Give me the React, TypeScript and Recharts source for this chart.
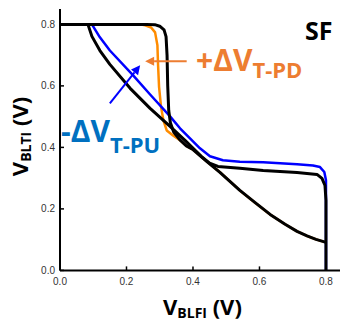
import React from 'react';
import { LineChart, Line, XAxis, YAxis, ReferenceLine } from 'recharts';

// axis ticks
const xTicks = [0, 0.2, 0.4, 0.6, 0.8];
const yTicks = [0, 0.2, 0.4, 0.6, 0.8];
const sideTicks = [0.2, 0.4, 0.6, 0.8];

// black curve, forward VTC (drops near 0.32 V)
const blackFwdX = [0, 0.26, 0.285, 0.3, 0.313, 0.319, 0.322, 0.324, 0.327, 0.332, 0.342, 0.36, 0.38, 0.4, 0.442, 0.481, 0.541, 0.586, 0.632, 0.677, 0.713, 0.743, 0.77, 0.8];
const blackFwdY = [0.8, 0.8, 0.799, 0.794, 0.782, 0.76, 0.7, 0.6, 0.52, 0.48, 0.45, 0.425, 0.405, 0.393, 0.354, 0.319, 0.26, 0.221, 0.182, 0.15, 0.127, 0.112, 0.101, 0.091];

// black curve, mirrored VTC (plateau ~0.33 V)
const blackRevX = [0, 0.084, 0.096, 0.12, 0.15, 0.211, 0.271, 0.331, 0.376, 0.425, 0.45, 0.475, 0.541, 0.611, 0.713, 0.773, 0.788, 0.797, 0.8, 0.8];
const blackRevY = [0.8, 0.8, 0.761, 0.715, 0.67, 0.592, 0.527, 0.468, 0.423, 0.371, 0.349, 0.338, 0.332, 0.325, 0.318, 0.312, 0.299, 0.276, 0.228, 0];

// orange: +dVT-PD shifted forward VTC
const orangeX = [0, 0.24, 0.256, 0.274, 0.286, 0.293, 0.295, 0.298, 0.304, 0.311, 0.321, 0.34, 0.361, 0.38, 0.4, 0.442, 0.481, 0.541, 0.586, 0.632, 0.677, 0.713, 0.743, 0.77, 0.8];
const orangeY = [0.8, 0.8, 0.797, 0.79, 0.774, 0.732, 0.667, 0.596, 0.531, 0.488, 0.455, 0.439, 0.423, 0.405, 0.393, 0.354, 0.319, 0.26, 0.221, 0.182, 0.15, 0.127, 0.112, 0.101, 0.091];

// blue: -dVT-PU shifted mirrored VTC
const blueX = [0, 0.096, 0.12, 0.15, 0.22, 0.271, 0.331, 0.361, 0.391, 0.421, 0.451, 0.49, 0.541, 0.611, 0.713, 0.761, 0.782, 0.795, 0.8, 0.8, 0.8];
const blueY = [0.8, 0.8, 0.758, 0.715, 0.634, 0.572, 0.501, 0.462, 0.429, 0.397, 0.371, 0.358, 0.353, 0.352, 0.345, 0.341, 0.336, 0.32, 0.293, 0.228, 0];

// annotation arrows (data space)
const orangeArrow = [{ x: 0.381, y: 0.68 }, { x: 0.256, y: 0.68 }];
const blueArrow = [{ x: 0.15, y: 0.543 }, { x: 0.241, y: 0.667 }];

const zip = (xs: number[], ys: number[]) => xs.map((x, i) => ({ x, y: ys[i] }));

const blackFwd = zip(blackFwdX, blackFwdY);
const blackRev = zip(blackRevX, blackRevY);
const orange = zip(orangeX, orangeY);
const blue = zip(blueX, blueY);

const tickFont = '"Liberation Sans", Arial, sans-serif';
const labelFont = '"Open Sans", "Noto Sans", sans-serif';

const LeftTick = (props: any) => {
  const { x, y, payload } = props;
  return (
    <g>
      <line x1={x} x2={x + 4} y1={y} y2={y} stroke="#000" strokeWidth={1.5} />
      <text x={x - 5} y={y} dy={3.6} textAnchor="end" fontSize={10} fill="#333" fontFamily={tickFont}>
        {payload.value.toFixed(1)}
      </text>
    </g>
  );
};

const BottomTick = (props: any) => {
  const { x, y, payload } = props;
  return (
    <g>
      <line x1={x} x2={x} y1={y} y2={y - 4} stroke="#000" strokeWidth={1.5} />
      <text x={x} y={y + 15} textAnchor="middle" fontSize={10} fill="#333" fontFamily={tickFont}>
        {payload.value.toFixed(1)}
      </text>
    </g>
  );
};

const TopTick = (props: any) => {
  const { x, y } = props;
  return <line x1={x} x2={x} y1={y} y2={y + 4} stroke="#000" strokeWidth={1.5} />;
};

const RightTick = (props: any) => {
  const { x, y } = props;
  return <line x1={x} x2={x - 4} y1={y} y2={y} stroke="#000" strokeWidth={1.5} />;
};

const arrowShape = (color: string) => (p: any) => {
  const { x1, y1, x2, y2 } = p;
  const a = Math.atan2(y2 - y1, x2 - x1);
  const len = 9;
  const half = 4.5;
  const bx = x2 - len * Math.cos(a);
  const by = y2 - len * Math.sin(a);
  const px = -Math.sin(a) * half;
  const py = Math.cos(a) * half;
  return (
    <g>
      <line x1={x1} y1={y1} x2={bx} y2={by} stroke={color} strokeWidth={2} />
      <polygon points={`${x2},${y2} ${bx + px},${by + py} ${bx - px},${by - py}`} fill={color} />
    </g>
  );
};

export default function App() {
  return (
    <div style={{ position: 'absolute', left: 0, top: 0, width: 340, height: 324, overflow: 'hidden', background: '#fff' }}>
      <LineChart width={360} height={324} margin={{ top: 9, right: 17.4, bottom: 23.6, left: 0 }}>
        <XAxis
          type="number"
          dataKey="x"
          domain={[0, 0.85]}
          ticks={xTicks}
          height={30}
          tickSize={0}
          tickMargin={0}
          tickLine={false}
          tick={<BottomTick />}
          axisLine={{ stroke: '#000', strokeWidth: 2 }}
        />
        <XAxis
          xAxisId="top"
          orientation="top"
          type="number"
          dataKey="x"
          domain={[0, 0.85]}
          ticks={xTicks}
          height={0}
          tickSize={0}
          tickMargin={0}
          tickLine={false}
          tick={<TopTick />}
          axisLine={{ stroke: '#000', strokeWidth: 2 }}
        />
        <YAxis
          type="number"
          dataKey="y"
          domain={[0, 0.85]}
          ticks={yTicks}
          width={60}
          tickSize={0}
          tickMargin={0}
          tickLine={false}
          tick={<LeftTick />}
          axisLine={{ stroke: '#000', strokeWidth: 2 }}
        />
        <YAxis
          yAxisId="right"
          orientation="right"
          type="number"
          dataKey="y"
          domain={[0, 0.85]}
          ticks={sideTicks}
          width={0}
          tickSize={0}
          tickMargin={0}
          tickLine={false}
          tick={<RightTick />}
          axisLine={{ stroke: '#000', strokeWidth: 2 }}
        />
        <Line data={orange} dataKey="y" type="linear" stroke="#FF8C00" strokeWidth={2.5} dot={false} isAnimationActive={false} strokeLinejoin="round" />
        <Line data={blue} dataKey="y" type="linear" stroke="#0000FF" strokeWidth={2.5} dot={false} isAnimationActive={false} strokeLinejoin="round" />
        <Line data={blackRev} dataKey="y" type="linear" stroke="#000" strokeWidth={3} dot={false} isAnimationActive={false} strokeLinejoin="round" />
        <Line data={blackFwd} dataKey="y" type="linear" stroke="#000" strokeWidth={3} dot={false} isAnimationActive={false} strokeLinejoin="round" />
        <ReferenceLine segment={orangeArrow} shape={arrowShape('#ED7D31')} />
        <ReferenceLine segment={blueArrow} shape={arrowShape('#0000FF')} />
      </LineChart>
      <svg width={340} height={324} style={{ position: 'absolute', left: 0, top: 0, pointerEvents: 'none' }}>
        <text x={305} y={40} fontSize={25} fontWeight="bold" fill="#000" fontFamily={labelFont}>SF</text>
        <text x={196} y={71} fill="#ED7D31" fontWeight="bold" fontFamily={labelFont}>
          <tspan fontSize={30}>+ΔV</tspan>
          <tspan fontSize={22} dy={7}>T-PD</tspan>
        </text>
        <text x={61} y={142} fill="#0070C0" fontWeight="bold" fontFamily={labelFont}>
          <tspan fontSize={30}>-ΔV</tspan>
          <tspan fontSize={22} dy={11}>T-PU</tspan>
        </text>
        <text x={163} y={315} fill="#000" fontWeight="bold" fontFamily={labelFont}>
          <tspan fontSize={22}>V</tspan>
          <tspan fontSize={14} dy={3}>BLFI</tspan>
          <tspan fontSize={22} dy={-3}> (V)</tspan>
        </text>
        <text x={0} y={0} transform="translate(28,136.5) rotate(-90)" textAnchor="middle" fill="#000" fontWeight="bold" fontFamily={labelFont}>
          <tspan fontSize={22}>V</tspan>
          <tspan fontSize={14} dy={3}>BLTI</tspan>
          <tspan fontSize={22} dy={-3}> (V)</tspan>
        </text>
      </svg>
    </div>
  );
}
